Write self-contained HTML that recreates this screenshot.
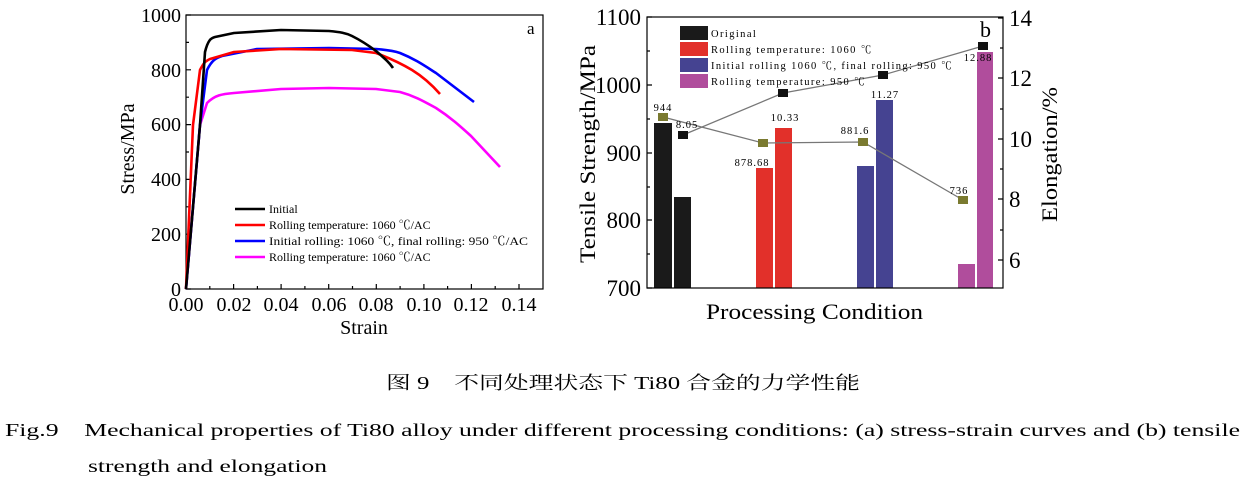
<!DOCTYPE html>
<html><head><meta charset="utf-8"><style>
body{margin:0;background:#fff;width:1244px;height:490px;overflow:hidden}
svg{display:block}
text{font-family:"Liberation Serif","Noto Serif CJK SC",serif}
</style></head><body>
<svg width="1244" height="490" viewBox="0 0 1244 490" xmlns="http://www.w3.org/2000/svg">
<!-- Chart a -->
<g stroke="#000" stroke-width="1.2" fill="none">
<rect x="186" y="15" width="357" height="274"/>
<path d="M186 289h5M186 261.6h3M186 234.2h5M186 206.8h3M186 179.4h5M186 152h3M186 124.6h5M186 97.2h3M186 69.8h5M186 42.4h3M186 15h5"/>
<path d="M186 289v-5M209.8 289v-3M233.6 289v-5M257.4 289v-3M281.1 289v-5M304.9 289v-3M328.7 289v-5M352.5 289v-3M376.3 289v-5M400.1 289v-3M423.9 289v-5M447.6 289v-3M471.4 289v-5M495.2 289v-3M519 289v-5"/>
</g>
<g font-size="20" text-anchor="end">
<text x="181" y="296">0</text><text x="181" y="241">200</text><text x="181" y="186">400</text><text x="181" y="131">600</text><text x="181" y="77">800</text><text x="181" y="22">1000</text>
</g>
<g font-size="20" text-anchor="middle">
<text x="186" y="311">0.00</text><text x="234" y="311">0.02</text><text x="281" y="311">0.04</text><text x="329" y="311">0.06</text><text x="376" y="311">0.08</text><text x="424" y="311">0.10</text><text x="471" y="311">0.12</text><text x="519" y="311">0.14</text>
<text x="364" y="334">Strain</text>
<text transform="translate(134 149) rotate(-90)">Stress/MPa</text>
</g>
<text x="527" y="34" font-size="17">a</text>
<g fill="none" stroke-width="2.6" stroke-linejoin="round">
<path stroke="#ff00ff" d="M186 289L200 125L207 103C215 95 222 94 234 93L281 89L329 88L376 89L400 92C415 96 425 102 436 108C450 117 460 126 471 136L500 167"/>
<path stroke="#0000ff" d="M186 289L200 125L207 70C212 60 216 58 222 56L257 49L329 48L376 49C388 50 394 51 400 53C415 59 425 66 436 73L474 102"/>
<path stroke="#ff0000" d="M186 289L193 125L200 70C204 62 206 61 210 59L234 52L281 49L352 50L376 53C392 59 402 64 412 70C425 78 433 86 440 94"/>
<path stroke="#000" d="M186 289L200 125L205 52C208 40 211 38 215 37L234 33L281 30L329 31C340 32 346 33 352 36C362 41 368 45 376 51C384 58 389 62 393 68"/>
</g>
<g stroke-width="2.6">
<line x1="235" y1="209" x2="265" y2="209" stroke="#000"/>
<line x1="235" y1="225" x2="265" y2="225" stroke="#ff0000"/>
<line x1="235" y1="241" x2="265" y2="241" stroke="#0000ff"/>
<line x1="235" y1="257" x2="265" y2="257" stroke="#ff00ff"/>
</g>
<g font-size="12">
<text x="269" y="213">Initial</text>
<text x="269" y="229">Rolling temperature: 1060 ℃/AC</text>
<text x="269" y="245" textLength="259" lengthAdjust="spacingAndGlyphs">Initial rolling: 1060 ℃, final rolling: 950 ℃/AC</text>
<text x="269" y="261">Rolling temperature: 1060 ℃/AC</text>
</g>

<!-- Chart b -->
<g>
<rect x="654" y="123" width="18" height="165" fill="#1a1a1a"/>
<rect x="674" y="197" width="17" height="91" fill="#1a1a1a"/>
<rect x="756" y="168" width="17" height="120" fill="#e2302a"/>
<rect x="775" y="128" width="17" height="160" fill="#e2302a"/>
<rect x="857" y="166" width="17" height="122" fill="#454391"/>
<rect x="876" y="100" width="17" height="188" fill="#454391"/>
<rect x="958" y="264" width="17" height="24" fill="#b04d9c"/>
<rect x="977" y="52" width="16" height="236" fill="#b04d9c"/>
</g>
<g stroke="#000" stroke-width="1.2" fill="none">
<rect x="647" y="17" width="356" height="271"/>
<path d="M647 17h5M647 51h3M647 85h5M647 119h3M647 153h5M647 187h3M647 220h5M647 254h3M647 288h5"/>
<path d="M1003 18h-5M1003 48h-3M1003 78h-5M1003 109h-3M1003 139h-5M1003 169h-3M1003 199h-5M1003 230h-3M1003 260h-5"/>
</g>
<g fill="none" stroke="#777" stroke-width="1.3">
<polyline points="663,117 763,143 863,142 963,200"/>
<polyline points="683,135 783,93 883,75 983,46"/>
</g>
<g fill="#7a7a30">
<rect x="658" y="113" width="10" height="8"/><rect x="758" y="139" width="10" height="8"/><rect x="858" y="138" width="10" height="8"/><rect x="958" y="196" width="10" height="8"/>
</g>
<g fill="#111">
<rect x="678" y="131" width="10" height="8"/><rect x="778" y="89" width="10" height="8"/><rect x="878" y="71" width="10" height="8"/><rect x="978" y="42" width="10" height="8"/>
</g>
<g font-size="10.5" letter-spacing="1" text-anchor="middle">
<text x="663" y="111">944</text><text x="687" y="128">8.05</text><text x="752" y="166">878.68</text><text x="785" y="121">10.33</text>
<text x="855" y="134">881.6</text><text x="885" y="98">11.27</text><text x="959" y="194">736</text><text x="978" y="61">12.88</text>
</g>
<g>
<rect x="680" y="26" width="28" height="14" fill="#1a1a1a"/>
<rect x="680" y="42" width="28" height="14" fill="#e2302a"/>
<rect x="680" y="58" width="28" height="14" fill="#454391"/>
<rect x="680" y="74" width="28" height="14" fill="#b04d9c"/>
</g>
<g font-size="10.5" letter-spacing="1.4">
<text x="711" y="37">Original</text>
<text x="711" y="53">Rolling temperature: 1060 ℃</text>
<text x="711" y="69" textLength="242">Initial rolling 1060 ℃, final rolling: 950 ℃</text>
<text x="711" y="85">Rolling temperature: 950 ℃</text>
</g>
<g font-size="23" text-anchor="end">
<text x="641" y="25">1100</text><text x="641" y="93">1000</text><text x="641" y="161">900</text><text x="641" y="228">800</text><text x="641" y="296">700</text>
</g>
<g font-size="23">
<text x="1009" y="26">14</text><text x="1009" y="86">12</text><text x="1009" y="147">10</text><text x="1009" y="207">8</text><text x="1009" y="268">6</text>
</g>
<text x="980" y="37" font-size="22">b</text>
<g font-size="22">
<text transform="translate(595 263) rotate(-90)" textLength="218" lengthAdjust="spacingAndGlyphs">Tensile Strength/MPa</text>
<text transform="translate(1057 222) rotate(-90)" textLength="135" lengthAdjust="spacingAndGlyphs">Elongation/%</text>
<text x="706" y="319" textLength="217" lengthAdjust="spacingAndGlyphs">Processing Condition</text>
</g>

<!-- captions -->
<text x="386" y="389" font-size="18" textLength="474" lengthAdjust="spacingAndGlyphs">图 9　不同处理状态下 Ti80 合金的力学性能</text>
<text x="5" y="436" font-size="18" textLength="1235" lengthAdjust="spacingAndGlyphs">Fig.9　Mechanical properties of Ti80 alloy under different processing conditions: (a) stress-strain curves and (b) tensile</text>
<text x="88" y="472" font-size="18" textLength="239" lengthAdjust="spacingAndGlyphs">strength and elongation</text>
</svg>
</body></html>
